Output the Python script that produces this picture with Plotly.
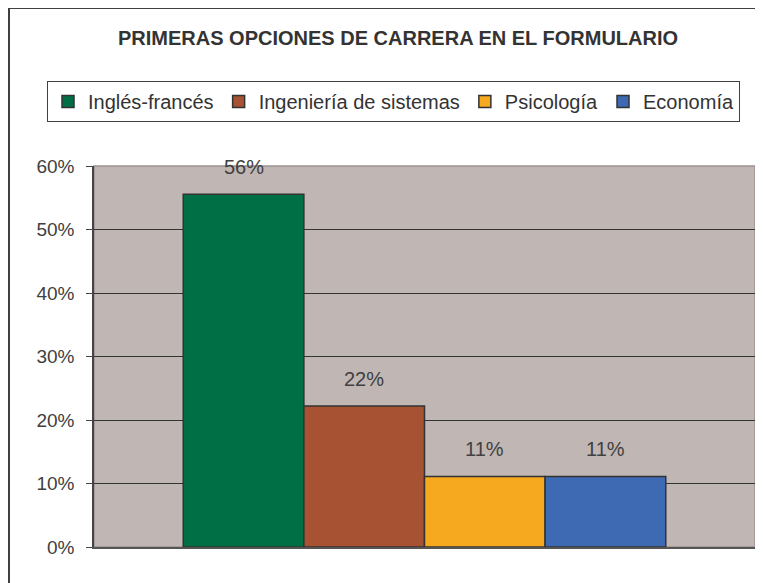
import plotly.graph_objects as go

categories = ["Primera opción"]
series_names = ["Inglés-francés", "Ingeniería de sistemas", "Psicología", "Economía"]
series_values = [5/9, 2/9, 1/9, 1/9]
series_labels = ["56%", "22%", "11%", "11%"]
colors = ["#006F45", "#A65233", "#F6A81E", "#3D6AB2"]
y_ticks = [0, 0.1, 0.2, 0.3, 0.4, 0.5, 0.6]
y_ticktext = ["0%", "10%", "20%", "30%", "40%", "50%", "60%"]

FONT = "Liberation Sans, Arial, sans-serif"
OFF = 8  # browser body margin
W, H = 763 - OFF, 583 - OFF
ML, MR, MT, MB = 86, 8, 158, 36
PW, PH = W - ML - MR, H - MT - MB
BARGAP = 0.27

def px_x(px):
    return (px - OFF - ML) / PW

def px_y(py):
    return (H - MB - (py - OFF)) / PH

fig = go.Figure()
for name, val, col in zip(series_names, series_values, colors):
    fig.add_trace(go.Bar(
        x=categories, y=[val], name=name,
        marker=dict(color=col, line=dict(color="#333333", width=1.5)),
    ))

n = len(series_names)
annotations = [dict(text="<b>PRIMERAS OPCIONES DE CARRERA EN EL FORMULARIO</b>",
                    xref="paper", yref="paper", x=px_x(398), y=px_y(38),
                    xanchor="center", yanchor="middle", showarrow=False,
                    font=dict(family=FONT, size=20, color="#333333"))]
for i, (val, lab) in enumerate(zip(series_values, series_labels)):
    xpos = (-0.5 + (i + 0.5) / n) * (1 - BARGAP)
    annotations.append(dict(text=lab, xref="x", yref="y", x=xpos, y=val,
                            xanchor="center", yanchor="middle", yshift=27,
                            showarrow=False,
                            font=dict(family=FONT, size=20, color="#404040")))

fig.update_layout(
    width=W, height=H,
    margin=dict(l=ML, r=MR, t=MT, b=MB),
    paper_bgcolor="white", plot_bgcolor="#C0B7B4",
    barmode="group", bargap=BARGAP, bargroupgap=0,
    showlegend=True,
    legend=dict(orientation="h", x=px_x(47), xanchor="left",
                y=px_y(81), yanchor="top",
                bordercolor="#404040", borderwidth=1,
                font=dict(family=FONT, size=20, color="#333333"),
                itemwidth=30, traceorder="normal"),
    font=dict(family=FONT, color="#333333"),
    xaxis=dict(showticklabels=False, ticks="", showgrid=False,
               showline=True, linecolor="#555555", linewidth=1.5,
               range=[-0.5, 0.5]),
    yaxis=dict(range=[0, 0.6], tickvals=y_ticks, ticktext=y_ticktext,
               showgrid=True, gridcolor="#333333", gridwidth=1,
               ticks="outside", ticklen=6, tickcolor="#444444",
               showline=True, linecolor="#444444", linewidth=1.5,
               ticklabelstandoff=8,
               tickfont=dict(family=FONT, size=19, color="#404040"),
               zeroline=False),
    annotations=annotations,
    shapes=[
        dict(type="rect", xref="paper", yref="paper",
             x0=0, x1=1, y0=0, y1=1, line=dict(color="#9C9290", width=1.5),
             layer="below"),
        dict(type="rect", xref="paper", yref="paper",
             x0=px_x(9), x1=px_x(775), y0=px_y(595), y1=px_y(8),
             line=dict(color="#404040", width=2)),
    ],
)

fig.write_html("out.html")
